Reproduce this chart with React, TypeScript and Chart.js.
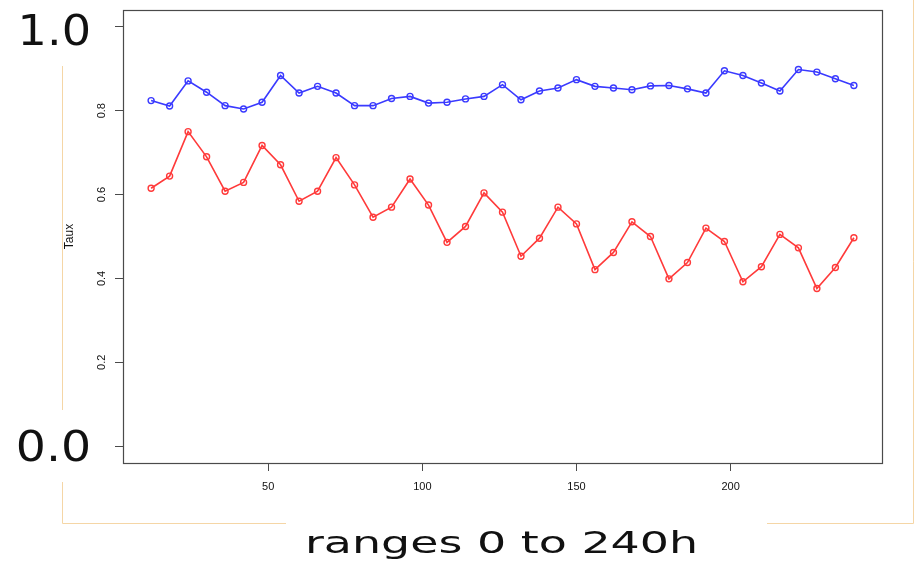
import { useEffect, useRef } from 'react';
import { Chart, registerables } from 'chart.js';

Chart.register(...registerables);

// ---- data ----
const hours = [12, 18, 24, 30, 36, 42, 48, 54, 60, 66, 72, 78, 84, 90, 96, 102, 108, 114, 120, 126, 132, 138, 144, 150, 156, 162, 168, 174, 180, 186, 192, 198, 204, 210, 216, 222, 228, 234, 240];
const blueSeries = [0.824, 0.811, 0.871, 0.844, 0.812, 0.804, 0.820, 0.884, 0.842, 0.858, 0.842, 0.812, 0.812, 0.829, 0.834, 0.818, 0.820, 0.828, 0.834, 0.862, 0.826, 0.847, 0.854, 0.874, 0.858, 0.854, 0.850, 0.859, 0.860, 0.852, 0.842, 0.895, 0.884, 0.866, 0.847, 0.898, 0.892, 0.876, 0.860];
const redSeries = [0.615, 0.644, 0.750, 0.690, 0.608, 0.629, 0.717, 0.671, 0.584, 0.608, 0.688, 0.623, 0.546, 0.570, 0.637, 0.575, 0.486, 0.524, 0.604, 0.558, 0.453, 0.496, 0.570, 0.530, 0.421, 0.462, 0.535, 0.500, 0.399, 0.438, 0.520, 0.488, 0.392, 0.428, 0.505, 0.473, 0.376, 0.426, 0.497];
const xTicks = [50, 100, 150, 200];
const xTickLabels = ['50', '100', '150', '200'];
const yTicks = [0, 0.2, 0.4, 0.6, 0.8, 1.0];
const yTickLabels = ['', '0.2', '0.4', '0.6', '0.8', ''];
const bigLabelValues = [1.0, 0.0];
const bigLabelTexts = ['1.0', '0.0'];
const yTitle = 'Taux';
const xTitle = 'ranges 0 to 240h';

const BLUE = '#3a3aff';
const RED = '#ff3a3a';
const AXIS = '#4a4a4a';
const BRACKET = '#f5d6a6';

function drawInk(ctx: CanvasRenderingContext2D, text: string, font: string, left: number, right: number, baseline: number) {
  ctx.save();
  ctx.font = font;
  ctx.textAlign = 'left';
  ctx.textBaseline = 'alphabetic';
  const m = ctx.measureText(text);
  const inkW = m.actualBoundingBoxLeft + m.actualBoundingBoxRight;
  const sx = (right - left) / inkW;
  ctx.translate(left, baseline);
  ctx.scale(sx, 1);
  ctx.fillText(text, m.actualBoundingBoxLeft, 0);
  ctx.restore();
}

const overlay = {
  id: 'overlay',
  afterDraw(chart: any) {
    const { ctx, chartArea: a, scales } = chart;
    ctx.save();
    // plot box
    ctx.strokeStyle = AXIS;
    ctx.lineWidth = 1.2;
    ctx.strokeRect(Math.round(a.left) + 0.5, Math.round(a.top) + 0.5, Math.round(a.right - a.left), Math.round(a.bottom - a.top));

    // annotation bracket
    ctx.strokeStyle = BRACKET;
    ctx.lineWidth = 1;
    ctx.beginPath();
    ctx.moveTo(62.5, 66); ctx.lineTo(62.5, 410);
    ctx.moveTo(62.5, 482); ctx.lineTo(62.5, 523.5); ctx.lineTo(286, 523.5);
    ctx.moveTo(767, 523.5); ctx.lineTo(913.5, 523.5); ctx.lineTo(913.5, 0);
    ctx.stroke();

    // big annotation labels
    ctx.fillStyle = '#111';
    const y = scales.y;
    bigLabelValues.forEach((v, i) => {
      const py = y.getPixelForValue(v);
      const isTop = i === 0;
      drawInk(ctx, bigLabelTexts[i], '42px "DejaVu Sans"', isTop ? 22 : 18, 88, py + (isTop ? 18 : 15));
    });
    drawInk(ctx, xTitle, '30px "DejaVu Sans"', 308, 695, 553);
    ctx.restore();
  },
};

export default function App() {
  const ref = useRef<HTMLCanvasElement>(null);
  useEffect(() => {
    const tickFont = { family: '"Liberation Sans", Arial, sans-serif', size: 11 };
    const chart = new Chart(ref.current!, {
      type: 'line',
      data: {
        datasets: [
          {
            data: hours.map((h, i) => ({ x: h, y: blueSeries[i] })),
            borderColor: BLUE,
            pointBorderColor: BLUE,
            pointBackgroundColor: 'rgba(0,0,0,0)',
            borderWidth: 1.6,
            pointRadius: 3,
            pointBorderWidth: 1.4,
            tension: 0,
          },
          {
            data: hours.map((h, i) => ({ x: h, y: redSeries[i] })),
            borderColor: RED,
            pointBorderColor: RED,
            pointBackgroundColor: 'rgba(0,0,0,0)',
            borderWidth: 1.6,
            pointRadius: 3,
            pointBorderWidth: 1.4,
            tension: 0,
          },
        ],
      },
      options: {
        responsive: false,
        animation: false,
        layout: { padding: { left: 0, top: 10, right: 32, bottom: 64 } },
        plugins: { legend: { display: false }, tooltip: { enabled: false } },
        scales: {
          x: {
            type: 'linear',
            min: 2.88,
            max: 249.12,
            afterBuildTicks: (s: any) => { s.ticks = xTicks.map((v) => ({ value: v })); },
            afterFit: (s: any) => { s.height = 40; s.paddingLeft = 0; s.paddingRight = 0; },
            grid: { drawOnChartArea: false, drawTicks: true, tickLength: 8, color: AXIS },
            border: { display: false },
            ticks: {
              font: tickFont,
              color: '#111',
              padding: 9,
              maxRotation: 0,
              autoSkip: false,
              callback: (_v: any, i: number) => xTickLabels[i],
            },
          },
          y: {
            type: 'linear',
            min: -0.04,
            max: 1.04,
            afterBuildTicks: (s: any) => { s.ticks = yTicks.map((v) => ({ value: v })); },
            afterFit: (s: any) => { s.width = 123; s.paddingTop = 0; s.paddingBottom = 0; },
            grid: { drawOnChartArea: false, drawTicks: true, tickLength: 8, color: AXIS },
            border: { display: false },
            ticks: {
              font: tickFont,
              color: '#111',
              minRotation: 90,
              maxRotation: 90,
              crossAlign: 'center',
              padding: 5,
              autoSkip: false,
              callback: (_v: any, i: number) => yTickLabels[i],
            },
            title: {
              display: true,
              text: yTitle,
              color: '#111',
              font: { family: '"Liberation Sans", Arial, sans-serif', size: 12 },
              padding: { top: 62, bottom: 0 },
            },
          },
        },
      },
      plugins: [overlay],
    } as any);
    return () => chart.destroy();
  }, []);

  return (
    <div style={{ position: 'fixed', left: 0, top: 0, width: 914, height: 567, background: '#fff' }}>
      <canvas ref={ref} width={914} height={567} style={{ display: 'block' }} />
    </div>
  );
}
